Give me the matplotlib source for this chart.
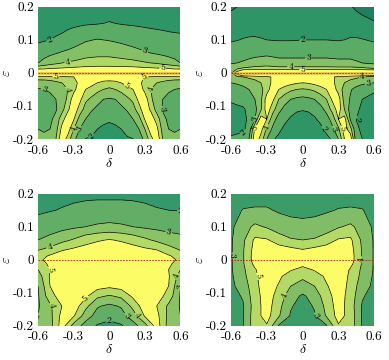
import numpy as np
import matplotlib.pyplot as plt

plt.rcParams["font.family"] = "serif"
plt.rcParams["font.serif"] = ["cmr10", "DejaVu Serif"]
plt.rcParams["mathtext.fontset"] = "cm"
plt.rcParams["axes.unicode_minus"] = False

# grids (rows listed from eps = 0.2 down to -0.2)
delta_fine = [-0.6, -0.55, -0.5, -0.45, -0.4, -0.35, -0.3, -0.25, -0.2, -0.15, -0.1, -0.05, 0.0,
              0.05, 0.1, 0.15, 0.2, 0.25, 0.3, 0.35, 0.4, 0.45, 0.5, 0.55, 0.6]
delta_coarse = [-0.6, -0.5, -0.4, -0.3, -0.2, -0.1, 0.0, 0.1, 0.2, 0.3, 0.4, 0.5, 0.6]
eps = [0.2, 0.15, 0.1, 0.06, 0.03, 0.012, 0.0, -0.012, -0.03, -0.05, -0.08, -0.11, -0.14, -0.17, -0.2]

panel_a = [
    [1.2, 1.25, 1.3, 1.35, 1.4, 1.45, 1.5, 1.52, 1.55, 1.58, 1.6, 1.6, 1.6, 1.6, 1.6, 1.58, 1.55, 1.52, 1.5, 1.48, 1.45, 1.43, 1.4, 1.4, 1.4],
    [1.5, 1.55, 1.6, 1.65, 1.7, 1.75, 1.8, 1.85, 1.9, 1.92, 1.95, 2.0, 2.05, 2.0, 1.95, 1.92, 1.9, 1.88, 1.85, 1.82, 1.8, 1.78, 1.75, 1.72, 1.7],
    [1.85, 1.92, 2.0, 2.1, 2.2, 2.4, 2.6, 2.75, 2.9, 2.98, 3.05, 3.0, 2.95, 2.88, 2.8, 2.7, 2.6, 2.52, 2.45, 2.4, 2.35, 2.3, 2.25, 2.22, 2.2],
    [2.5, 2.65, 2.8, 2.95, 3.1, 3.2, 3.3, 3.45, 3.6, 3.65, 3.7, 3.7, 3.7, 3.62, 3.55, 3.45, 3.35, 3.22, 3.1, 3.0, 2.9, 2.8, 2.7, 2.65, 2.6],
    [3.0, 3.3, 3.6, 3.8, 4.0, 4.1, 4.2, 4.3, 4.4, 4.45, 4.5, 4.5, 4.5, 4.45, 4.4, 4.35, 4.3, 4.2, 4.1, 4.0, 3.9, 3.7, 3.5, 3.25, 3.0],
    [4.9, 5.0, 5.1, 5.15, 5.2, 5.25, 5.3, 5.35, 5.4, 5.4, 5.4, 5.4, 5.4, 5.4, 5.4, 5.4, 5.4, 5.35, 5.3, 5.25, 5.2, 5.15, 5.1, 5.0, 4.9],
    [8.0, 8.0, 8.0, 8.0, 8.0, 8.0, 8.0, 8.0, 8.0, 8.0, 8.0, 8.0, 8.0, 8.0, 8.0, 8.0, 8.0, 8.0, 8.0, 8.0, 8.0, 8.0, 8.0, 8.0, 8.0],
    [4.5, 4.55, 4.6, 4.7, 4.8, 4.9, 5.0, 5.2, 5.5, 5.7, 5.8, 5.8, 5.8, 5.8, 5.8, 5.7, 5.5, 5.2, 5.0, 4.9, 4.8, 4.7, 4.6, 4.55, 4.5],
    [3.5, 3.5, 3.6, 3.8, 4.0, 4.3, 4.7, 5.2, 5.6, 5.4, 5.0, 4.7, 4.6, 4.7, 5.0, 5.4, 5.6, 5.2, 4.7, 4.3, 4.0, 3.8, 3.6, 3.5, 3.5],
    [2.9, 3.0, 3.1, 3.3, 3.6, 4.0, 4.7, 5.6, 5.0, 4.6, 4.3, 4.0, 3.8, 4.0, 4.3, 4.6, 5.0, 5.6, 4.7, 4.0, 3.6, 3.3, 3.1, 3.0, 2.9],
    [2.7, 2.7, 2.8, 3.0, 3.4, 4.2, 5.6, 5.3, 4.2, 3.8, 3.3, 3.0, 2.9, 3.0, 3.3, 3.8, 4.2, 5.3, 5.6, 4.2, 3.4, 3.0, 2.8, 2.7, 2.7],
    [2.7, 2.65, 2.7, 2.9, 3.6, 4.8, 5.7, 4.6, 3.6, 3.1, 2.8, 2.6, 2.5, 2.6, 2.8, 3.1, 3.6, 4.6, 5.7, 4.8, 3.6, 2.9, 2.7, 2.65, 2.7],
    [2.8, 2.7, 2.8, 3.3, 4.6, 5.6, 5.1, 3.6, 3.0, 2.6, 2.4, 2.2, 2.1, 2.2, 2.4, 2.6, 3.0, 3.6, 5.1, 5.6, 4.6, 3.3, 2.8, 2.7, 2.8],
    [3.0, 2.9, 3.0, 3.6, 5.3, 5.6, 4.0, 3.0, 2.6, 2.3, 2.0, 1.85, 1.8, 1.85, 2.0, 2.3, 2.6, 3.0, 4.0, 5.6, 5.3, 3.6, 3.0, 2.9, 3.0],
    [3.2, 3.2, 3.3, 4.0, 5.8, 4.6, 3.2, 2.6, 1.97, 1.9, 1.7, 1.65, 1.6, 1.65, 1.7, 1.9, 1.97, 2.6, 3.2, 4.6, 5.8, 4.0, 3.3, 3.2, 3.2],
]

panel_b = [
    [0.9, 1.0, 1.1, 1.2, 1.3, 1.35, 1.4, 1.42, 1.45, 1.48, 1.5, 1.5, 1.5, 1.5, 1.45, 1.42, 1.4, 1.3, 1.2, 1.12, 1.05, 0.9, 0.8, 0.75, 0.7],
    [1.3, 1.4, 1.5, 1.55, 1.6, 1.62, 1.65, 1.68, 1.7, 1.7, 1.7, 1.7, 1.7, 1.7, 1.7, 1.68, 1.65, 1.62, 1.6, 1.5, 1.4, 1.3, 1.2, 1.12, 1.05],
    [1.9, 1.97, 2.05, 2.1, 2.1, 2.05, 2.0, 1.97, 1.95, 1.95, 1.95, 1.97, 2.0, 2.0, 2.0, 2.0, 2.0, 1.97, 1.95, 2.0, 2.1, 2.12, 2.05, 1.97, 1.9],
    [2.5, 2.55, 2.6, 2.65, 2.7, 2.75, 2.8, 2.75, 2.7, 2.7, 2.7, 2.7, 2.7, 2.7, 2.7, 2.7, 2.7, 2.7, 2.7, 2.7, 2.7, 2.65, 2.6, 2.55, 2.5],
    [2.9, 3.0, 3.1, 3.25, 3.4, 3.45, 3.5, 3.4, 3.3, 3.3, 3.3, 3.3, 3.3, 3.3, 3.3, 3.3, 3.3, 3.25, 3.2, 3.2, 3.2, 3.1, 3.0, 2.9, 2.8],
    [3.8, 4.0, 4.2, 4.3, 4.4, 4.45, 4.5, 4.45, 4.4, 4.4, 4.4, 4.4, 4.4, 4.4, 4.4, 4.4, 4.4, 4.4, 4.4, 4.4, 4.4, 4.35, 4.3, 4.2, 4.1],
    [3.8, 5.6, 8.0, 8.0, 8.0, 8.0, 8.0, 8.0, 8.0, 8.0, 8.0, 8.0, 8.0, 8.0, 8.0, 8.0, 8.0, 8.0, 8.0, 8.0, 8.0, 8.0, 8.0, 8.0, 8.0],
    [3.5, 3.8, 4.0, 4.2, 4.4, 4.6, 4.8, 5.1, 5.5, 5.7, 5.8, 5.8, 5.8, 5.8, 5.8, 5.7, 5.5, 5.1, 4.8, 4.6, 4.4, 4.2, 4.0, 3.8, 3.6],
    [3.0, 3.1, 3.2, 3.4, 3.6, 4.0, 4.6, 5.2, 5.6, 5.5, 5.3, 5.1, 5.0, 5.1, 5.3, 5.5, 5.6, 5.2, 4.6, 4.0, 3.6, 3.4, 3.2, 3.1, 3.0],
    [2.5, 2.6, 2.8, 3.0, 3.2, 3.7, 4.6, 5.6, 5.0, 4.6, 4.2, 4.0, 3.9, 4.0, 4.2, 4.6, 5.0, 5.6, 4.6, 3.6, 3.1, 2.7, 2.4, 2.2, 2.1],
    [2.1, 2.2, 2.3, 2.6, 3.0, 3.8, 5.5, 5.2, 4.0, 3.4, 3.0, 2.8, 2.7, 2.8, 3.0, 3.4, 4.0, 5.2, 5.5, 3.6, 2.9, 2.4, 2.0, 1.9, 1.8],
    [1.8, 1.85, 1.9, 2.2, 2.7, 3.8, 5.6, 4.4, 3.3, 2.7, 2.3, 2.1, 2.05, 2.1, 2.3, 2.7, 3.3, 4.4, 5.5, 4.0, 2.6, 2.1, 1.9, 1.8, 1.7],
    [1.7, 1.75, 1.85, 2.1, 3.0, 5.6, 5.0, 3.4, 2.6, 2.2, 1.9, 1.75, 1.7, 1.75, 1.9, 2.2, 2.6, 3.4, 5.0, 5.5, 2.9, 2.0, 1.9, 1.8, 1.7],
    [1.8, 1.85, 1.9, 2.2, 5.2, 5.4, 3.8, 2.8, 2.2, 1.8, 1.6, 1.52, 1.5, 1.52, 1.6, 1.8, 2.2, 2.8, 3.8, 5.5, 4.4, 2.1, 1.9, 1.8, 1.7],
    [2.1, 2.15, 2.2, 3.0, 5.8, 4.6, 3.0, 2.1, 1.8, 1.6, 1.5, 1.42, 1.4, 1.42, 1.5, 1.6, 1.8, 2.1, 3.0, 5.0, 5.7, 2.3, 2.0, 1.8, 1.7],
]

panel_c = [
    [1.55, 1.65, 1.75, 1.8, 1.85, 1.85, 1.85, 1.85, 1.85, 1.8, 1.75, 1.7, 1.6],
    [1.85, 1.95, 2.05, 2.15, 2.2, 2.25, 2.25, 2.25, 2.2, 2.15, 2.05, 2.0, 1.97],
    [2.4, 2.55, 2.7, 2.85, 3.0, 3.15, 3.25, 3.15, 3.0, 2.85, 2.75, 2.65, 2.6],
    [3.0, 3.3, 3.7, 4.1, 4.6, 4.9, 5.05, 4.9, 4.6, 4.2, 3.8, 3.5, 3.3],
    [3.95, 4.3, 4.9, 5.2, 5.4, 5.5, 5.6, 5.5, 5.4, 5.2, 5.0, 4.4, 3.95],
    [4.6, 5.1, 5.6, 5.7, 5.8, 5.8, 5.8, 5.8, 5.8, 5.7, 5.6, 5.1, 4.6],
    [4.8, 5.3, 5.8, 5.9, 6.0, 6.0, 6.0, 6.0, 6.0, 5.9, 5.8, 5.3, 4.8],
    [4.5, 5.2, 5.8, 6.0, 6.0, 6.0, 6.0, 6.0, 6.0, 6.0, 5.8, 5.2, 4.5],
    [4.0, 5.0, 6.0, 6.0, 6.0, 6.0, 6.0, 6.0, 6.0, 6.0, 6.0, 5.0, 4.0],
    [3.5, 5.1, 6.0, 6.0, 6.0, 6.0, 5.8, 6.0, 6.0, 6.0, 6.0, 5.1, 3.5],
    [3.0, 5.0, 5.8, 6.0, 5.8, 5.4, 5.2, 5.4, 5.8, 6.0, 5.8, 5.0, 3.0],
    [2.9, 4.6, 5.5, 5.9, 5.2, 4.2, 3.9, 4.2, 5.2, 5.9, 5.5, 4.6, 2.9],
    [2.9, 3.8, 5.0, 5.6, 4.3, 3.1, 2.8, 3.1, 4.3, 5.6, 5.0, 3.8, 2.9],
    [3.0, 3.7, 5.3, 5.1, 3.5, 2.6, 2.3, 2.6, 3.5, 5.1, 5.3, 3.7, 3.0],
    [3.1, 3.6, 5.5, 3.6, 2.6, 1.9, 1.7, 1.9, 2.6, 3.6, 5.5, 3.6, 3.1],
]

panel_d = [
    [2.3, 2.5, 2.6, 2.6, 2.6, 2.6, 2.6, 2.6, 2.6, 2.6, 2.6, 2.5, 2.3],
    [2.6, 3.05, 3.1, 3.1, 2.9, 2.8, 2.75, 2.8, 2.9, 3.05, 3.1, 3.05, 2.6],
    [2.8, 3.6, 4.2, 3.9, 3.5, 3.3, 3.25, 3.3, 3.5, 3.9, 4.2, 3.6, 2.8],
    [2.9, 3.8, 5.2, 5.1, 4.5, 4.1, 4.0, 4.1, 4.5, 5.1, 5.2, 3.8, 2.9],
    [2.9, 3.9, 5.4, 5.6, 5.5, 5.3, 5.05, 5.3, 5.5, 5.6, 5.4, 3.9, 2.9],
    [2.9, 3.9, 5.5, 5.8, 5.8, 5.6, 5.5, 5.6, 5.8, 5.8, 5.5, 3.9, 2.9],
    [2.9, 3.9, 5.5, 5.9, 5.9, 5.8, 5.7, 5.8, 5.9, 5.9, 5.5, 3.9, 2.9],
    [2.9, 3.9, 5.3, 5.9, 5.9, 5.6, 5.3, 5.6, 5.9, 5.9, 5.3, 3.9, 2.9],
    [2.9, 3.8, 4.9, 5.8, 5.6, 5.1, 4.7, 5.1, 5.6, 5.8, 4.9, 3.8, 2.9],
    [2.85, 3.7, 4.8, 5.7, 5.2, 4.5, 4.2, 4.5, 5.2, 5.7, 4.8, 3.7, 2.85],
    [2.8, 3.4, 4.7, 5.6, 4.9, 4.0, 3.6, 4.0, 4.9, 5.6, 4.7, 3.4, 2.8],
    [2.6, 3.1, 4.6, 5.5, 4.6, 3.4, 2.85, 3.4, 4.6, 5.5, 4.6, 3.1, 2.6],
    [2.5, 2.9, 4.5, 5.5, 4.3, 3.1, 2.6, 3.1, 4.3, 5.5, 4.5, 2.9, 2.5],
    [2.5, 2.9, 4.6, 5.4, 4.1, 2.9, 2.5, 2.9, 4.1, 5.4, 4.6, 2.9, 2.5],
    [2.5, 2.9, 4.6, 4.9, 2.9, 2.6, 2.5, 2.6, 2.9, 4.9, 4.6, 2.9, 2.5],
]

fill_levels = [-10, 1, 2, 3, 4, 5, 20]
colors_top = ["#1e8062", "#2e9566", "#5aab66", "#84c066", "#b0d866", "#fcfc66"]
colors_c = ["#1e8062", "#35986a", "#62ae66", "#8ac366", "#b4da66", "#fcfc66"]
colors_d = ["#1e8062", "#2e9566", "#3c9c68", "#80bd66", "#b3d966", "#fcfc66"]
line_levels = [1, 2, 3, 4, 5]
label_levels = [2, 3, 4, 5]

panels = [panel_a, panel_b, panel_c, panel_d]
grids = [delta_fine, delta_fine, delta_coarse, delta_coarse]
palettes = [colors_top, colors_top, colors_c, colors_d]
has_strip = [True, True, False, False]

fig = plt.figure(figsize=(3.89, 3.60), dpi=100)
positions = [
    [0.098, 0.614, 0.366, 0.367],
    [0.594, 0.614, 0.368, 0.367],
    [0.098, 0.095, 0.366, 0.367],
    [0.594, 0.095, 0.368, 0.367],
]

for k in range(4):
    ax = fig.add_axes(positions[k])
    D, E = np.meshgrid(grids[k], eps)
    Z = np.array(panels[k])
    ax.contourf(D, E, Z, levels=fill_levels, colors=palettes[k])
    cs = ax.contour(D, E, Z, levels=line_levels, colors="k", linewidths=0.5)
    ax.clabel(cs, levels=label_levels, fmt="%d", fontsize=7, inline=True, inline_spacing=1)
    if has_strip[k]:
        ax.axhline(0, color="#d9a040", lw=2.0, alpha=0.6)
    ax.axhline(0, color="#b02020", lw=0.6, ls=(0, (2, 1.5)))

    ax.set_xlim(-0.6, 0.6)
    ax.set_ylim(-0.2, 0.2)
    ax.set_xticks([-0.6, -0.3, 0, 0.3, 0.6])
    ax.set_xticklabels(["-0.6", "-0.3", "0", "0.3", "0.6"])
    ax.set_yticks([-0.2, -0.1, 0, 0.1, 0.2])
    ax.set_yticklabels(["-0.2", "-0.1", "0", "0.1", "0.2"])
    ax.tick_params(axis="x", length=0, labelsize=9.5, pad=4)
    ax.tick_params(axis="y", length=0, labelsize=9.5, pad=3)
    for s in ax.spines.values():
        s.set_visible(False)
    ax.set_xlabel(r"$\delta$", fontsize=10, labelpad=0)
    ax.set_ylabel(r"$\varepsilon$", fontsize=10, labelpad=0)

fig.savefig("out.png", dpi=100)
